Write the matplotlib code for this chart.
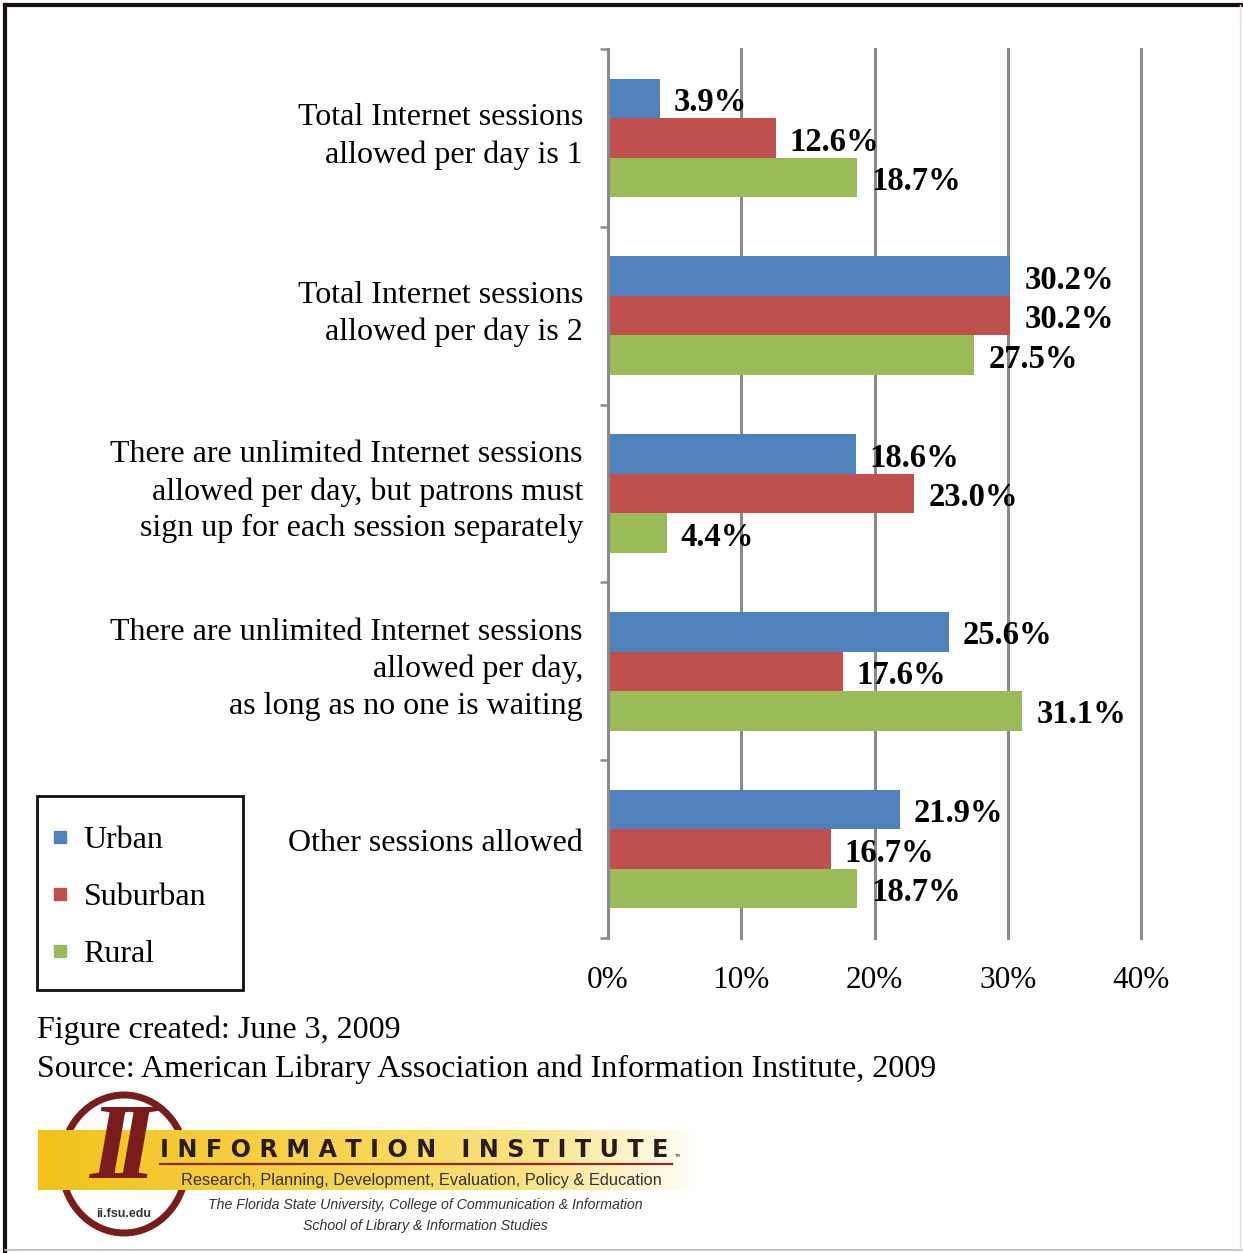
import numpy as np
import matplotlib.pyplot as plt
import matplotlib.transforms as mtransforms
from matplotlib.lines import Line2D
from matplotlib.patches import Rectangle, Ellipse

plt.rcParams['font.family'] = ['Liberation Serif', 'DejaVu Serif']

categories = [
    "Total Internet sessions\nallowed per day is 1",
    "Total Internet sessions\nallowed per day is 2",
    "There are unlimited Internet sessions\nallowed per day, but patrons must\nsign up for each session separately",
    "There are unlimited Internet sessions\nallowed per day,\nas long as no one is waiting",
    "Other sessions allowed",
]
series = ["Urban", "Suburban", "Rural"]
urban = [3.9, 30.2, 18.6, 25.6, 21.9]
suburban = [12.6, 30.2, 23.0, 17.6, 16.7]
rural = [18.7, 27.5, 4.4, 31.1, 18.7]
xticks = [0, 10, 20, 30, 40]
colors = ["#4F81BD", "#C0504D", "#9BBB59"]

W, H = 1243, 1253
fig = plt.figure(figsize=(W / 100, H / 100), dpi=100)
fig.patch.set_facecolor('white')

ax = fig.add_axes([608 / W, 1 - 938 / H, 533 / W, 889 / H])
ax.set_xlim(0, 40)
ax.set_ylim(5, 0)

h = 0.222
y = np.arange(len(categories)) + 0.5
for k, vals in enumerate([urban, suburban, rural]):
    yy = y + (k - 1) * h
    ax.barh(yy, vals, height=h, color=colors[k], zorder=3, edgecolor='none')
    for yi, v in zip(yy, vals):
        ax.annotate("%.1f%%" % v, (v, yi), xytext=(10, -3), textcoords='offset points',
                    va='center', ha='left', fontsize=23.5, fontweight='bold', zorder=4)

ax.set_xticks(xticks)
ax.set_xticklabels(["%d%%" % t for t in xticks], fontsize=22.5)
ax.tick_params(axis='x', length=0, pad=20)
ax.grid(axis='x', color='#8a8a8a', linewidth=2.2, zorder=1)
for gl in ax.get_xgridlines():
    gl.set_clip_on(False)

ax.set_yticks(np.arange(6))
ax.set_yticklabels([])
ax.set_yticks(y, minor=True)
ax.set_yticklabels(categories, minor=True, fontsize=23, linespacing=1.35)
ax.tick_params(axis='y', which='major', length=6, width=1.8, color='#8a8a8a', direction='out')
ax.tick_params(axis='y', which='minor', length=0, pad=18)
lift = mtransforms.ScaledTranslation(0, 9 / 100, fig.dpi_scale_trans)
for lab in ax.get_yticklabels(minor=True):
    lab.set_transform(lab.get_transform() + lift)

for s in ['top', 'right', 'bottom']:
    ax.spines[s].set_visible(False)
ax.spines['left'].set_color('#8a8a8a')
ax.spines['left'].set_linewidth(2.2)
ax.spines['left'].set_zorder(5)

# legend with a hand-drawn box
handles = [Line2D([], [], marker='s', linestyle='none', markersize=8, color=c) for c in colors]
fig.legend(handles, series, loc='upper left', bbox_to_anchor=(18 / W, 1 - 797 / H),
           frameon=False, fontsize=23, labelspacing=0.87, handletextpad=0.35, handlelength=0.8)

# overlay in pixel coordinates for frame, footer and logo
ov = fig.add_axes([0, 0, 1, 1], zorder=10)
ov.set_xlim(0, W)
ov.set_ylim(H, 0)
ov.axis('off')
ov.patch.set_alpha(0)

ov.add_patch(Rectangle((37, 796), 206, 194, fill=False, edgecolor='#111111', linewidth=2))

ov.plot([5, W], [5, 5], color='#1a1010', linewidth=3)
ov.plot([5, 5], [5, H], color='#1a1010', linewidth=3)
ov.plot([5, W], [1250, 1250], color='#bbbbbb', linewidth=1.2)
ov.plot([1240, 1240], [5, 1250], color='#e8dcd8', linewidth=1)

ov.text(37, 1030, "Figure created: June 3, 2009", fontsize=23, va='center', ha='left')
ov.text(37, 1069, "Source: American Library Association and Information Institute, 2009",
        fontsize=23, va='center', ha='left')

# logo
maroon = '#7a1c1c'
sans = ['Liberation Sans', 'DejaVu Sans']
ov.add_patch(Ellipse((124, 1164), 125, 138, fill=False, edgecolor=maroon, linewidth=5, zorder=1))
stops = np.array([[0.95, 0.76, 0.10], [0.96, 0.80, 0.22], [0.97, 0.84, 0.34],
                  [0.98, 0.89, 0.52], [1.0, 1.0, 1.0]])
pos = np.linspace(0, 1, len(stops))
t = np.linspace(0, 1, 300)
grad = np.stack([np.interp(t, pos, stops[:, i]) for i in range(3)], axis=-1)[None, :, :]
ov.imshow(grad, extent=[38, 700, 1190, 1130], aspect='auto', zorder=2)
ov.set_xlim(0, W)
ov.set_ylim(H, 0)

# slanted double-I monogram
for xi in (110, 134):
    ov.text(xi, 1152, "I", fontsize=78, fontweight='bold', style='italic', color=maroon,
            ha='center', va='center', zorder=4)
ov.text(124, 1214, "ii.fsu.edu", fontsize=9, fontweight='bold', color='#333333',
        family=sans, ha='center', va='center', zorder=4)
ov.text(160, 1150, "I N F O R M A T I O N   I N S T I T U T E", fontsize=17.2, fontweight='bold',
        color='#2a1a1a', family=['DejaVu Sans'], ha='left', va='center', zorder=4)
ov.text(674, 1157, "TM", fontsize=3, color='#2a1a1a', family=['DejaVu Sans'], zorder=4)
ov.plot([160, 672], [1164, 1164], color='#8b2a2a', linewidth=1.6, zorder=4)
ov.text(181, 1181, "Research, Planning, Development, Evaluation, Policy & Education", fontsize=11.8,
        color='#333333', family=sans, ha='left', va='center', zorder=4)
ov.text(425, 1205, "The Florida State University, College of Communication & Information", fontsize=10.2,
        style='italic', color='#333333', family=sans, ha='center', va='center', zorder=4)
ov.text(425, 1226, "School of Library & Information Studies", fontsize=10.2, style='italic',
        color='#333333', family=sans, ha='center', va='center', zorder=4)

fig.savefig("out.png", dpi=100, facecolor='white')
